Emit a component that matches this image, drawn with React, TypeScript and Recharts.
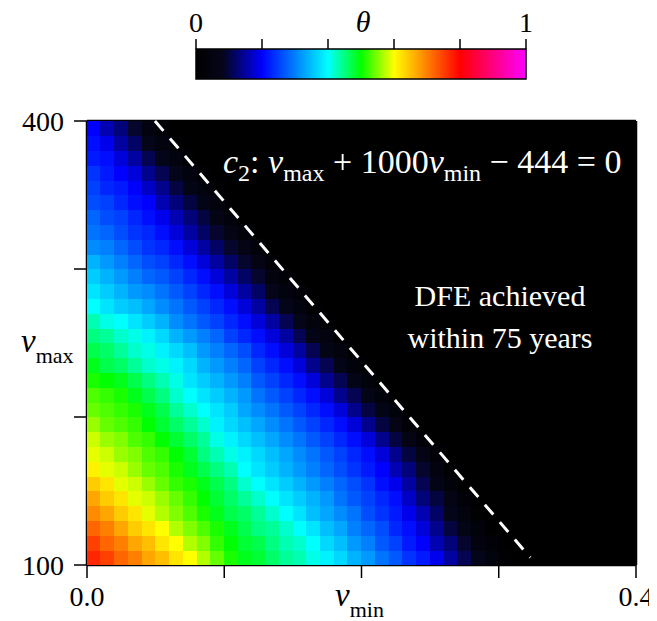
import React from 'react';
import {
  ScatterChart,
  Scatter,
  BarChart,
  Bar,
  XAxis,
  YAxis,
  CartesianGrid,
} from 'recharts';

// cell centres of the theta grid
const VMIN_CENTERS = [
  0.005, 0.015, 0.025, 0.035, 0.045, 0.055, 0.065, 0.075, 0.085, 0.095,
  0.105, 0.115, 0.125, 0.135, 0.145, 0.155, 0.165, 0.175, 0.185, 0.195,
  0.205, 0.215, 0.225, 0.235, 0.245, 0.255, 0.265, 0.275, 0.285, 0.295,
  0.305, 0.315, 0.325, 0.335, 0.345, 0.355, 0.365, 0.375, 0.385, 0.395,
];
const VMAX_CENTERS = [
  105, 115, 125, 135, 145, 155, 165, 175, 185, 195, 205, 215, 225, 235, 245,
  255, 265, 275, 285, 295, 305, 315, 325, 335, 345, 355, 365, 375, 385, 395,
];

// theta in percent, one row per vmax centre (bottom to top); cells past the end of a row are 0 (black)
const THETA_PCT = [
  [77, 75, 72, 70, 67, 65, 62, 60, 57, 54, 51, 49, 48, 46, 44, 43, 41, 39, 37, 34, 32, 29, 27, 24, 22, 19, 15, 11, 8, 4, 1],
  [75, 72, 70, 67, 65, 62, 60, 57, 55, 52, 50, 48, 47, 45, 43, 42, 40, 37, 35, 32, 30, 27, 25, 22, 20, 16, 13, 9, 5, 2],
  [72, 70, 67, 64, 62, 60, 57, 55, 53, 51, 49, 47, 45, 44, 42, 40, 38, 35, 33, 30, 28, 26, 23, 21, 18, 14, 10, 7, 3],
  [69, 67, 64, 62, 59, 57, 55, 53, 51, 49, 47, 46, 44, 42, 40, 38, 35, 33, 31, 29, 26, 24, 22, 19, 16, 12, 8, 4, 1],
  [67, 64, 62, 59, 58, 56, 54, 52, 50, 48, 46, 44, 42, 40, 38, 36, 34, 32, 29, 27, 25, 23, 21, 17, 13, 10, 6, 2],
  [64, 62, 59, 58, 56, 54, 52, 51, 49, 47, 45, 42, 40, 38, 36, 34, 32, 30, 28, 26, 24, 21, 19, 15, 11, 7, 3],
  [61, 59, 58, 56, 54, 53, 51, 49, 47, 45, 43, 40, 38, 36, 34, 32, 30, 28, 26, 24, 22, 20, 16, 13, 9, 5, 1],
  [59, 58, 56, 55, 53, 52, 50, 48, 45, 43, 41, 39, 37, 35, 33, 31, 29, 27, 25, 23, 21, 18, 14, 10, 6, 2],
  [58, 56, 55, 53, 52, 50, 48, 46, 44, 41, 39, 37, 35, 33, 31, 29, 27, 25, 23, 21, 18, 14, 10, 6, 2],
  [56, 54, 53, 52, 50, 48, 46, 44, 42, 39, 37, 35, 33, 31, 29, 27, 25, 23, 21, 18, 14, 10, 6, 2],
  [54, 53, 52, 51, 49, 47, 44, 42, 40, 38, 36, 33, 31, 29, 27, 25, 23, 21, 18, 14, 10, 7, 3],
  [53, 52, 51, 49, 47, 45, 42, 40, 38, 36, 34, 32, 29, 27, 25, 23, 21, 18, 14, 11, 7, 3],
  [51, 50, 49, 47, 45, 43, 41, 38, 36, 34, 32, 30, 27, 25, 23, 21, 18, 14, 11, 7, 3],
  [49, 47, 46, 44, 42, 41, 39, 37, 34, 32, 30, 28, 25, 23, 21, 18, 14, 11, 7, 3],
  [47, 46, 44, 42, 41, 39, 37, 35, 32, 30, 28, 26, 23, 21, 18, 15, 11, 7, 4],
  [45, 44, 42, 41, 39, 37, 34, 32, 30, 28, 25, 23, 21, 18, 15, 11, 7, 4],
  [43, 41, 40, 38, 36, 34, 31, 29, 27, 25, 23, 21, 18, 15, 11, 8, 4, 1],
  [40, 38, 36, 35, 33, 31, 29, 27, 25, 23, 21, 18, 15, 11, 8, 5, 1],
  [38, 36, 34, 32, 31, 29, 27, 25, 23, 21, 18, 15, 12, 8, 5, 2],
  [36, 34, 32, 30, 28, 27, 25, 23, 21, 18, 15, 12, 9, 5, 2],
  [34, 32, 30, 28, 26, 25, 23, 21, 18, 15, 12, 9, 6, 2],
  [31, 30, 28, 26, 24, 23, 21, 18, 15, 12, 9, 6, 3],
  [29, 28, 26, 24, 23, 21, 18, 15, 12, 9, 6, 3],
  [28, 26, 25, 23, 21, 19, 16, 13, 10, 6, 3],
  [26, 25, 23, 21, 20, 16, 13, 10, 7, 4],
  [25, 23, 22, 20, 17, 14, 10, 7, 4, 1],
  [24, 22, 20, 18, 14, 11, 8, 4, 1],
  [22, 21, 18, 15, 11, 8, 5, 1],
  [21, 19, 15, 12, 8, 5, 1],
  [20, 16, 13, 9, 5, 2],
];

const X_TICKS = [0, 0.1, 0.2, 0.3, 0.4];
const Y_TICKS = [100, 200, 300, 400];
const CBAR_TICKS = [0, 0.2, 0.4, 0.6, 0.8, 1];

// colour map of the theta bar
const CMAP_POS = [0, 0.08, 0.2, 0.4, 0.5, 0.6, 0.8, 1];
const CMAP_COLORS = ['#000000', '#05051a', '#0000ff', '#00ffff', '#00ff00', '#ffff00', '#ff0000', '#ff00ff'];

// dashed c2 line, end points
const C2_LINE = [
  { vmin: 0.0495, vmax: 400 },
  { vmin: 0.323, vmax: 105 },
];

const SERIF = '"Liberation Serif", "DejaVu Serif", serif';
const PLOT_W = 549;
const PLOT_H = 444;

function rgb(hex: string) {
  return [1, 3, 5].map((i) => parseInt(hex.slice(i, i + 2), 16));
}

function thetaColor(t: number) {
  for (let i = 1; i < CMAP_POS.length; i++) {
    if (t <= CMAP_POS[i]) {
      const f = (t - CMAP_POS[i - 1]) / (CMAP_POS[i] - CMAP_POS[i - 1]);
      const a = rgb(CMAP_COLORS[i - 1]);
      const b = rgb(CMAP_COLORS[i]);
      const c = a.map((v, k) => Math.round(v + (b[k] - v) * f));
      return `rgb(${c[0]},${c[1]},${c[2]})`;
    }
  }
  return CMAP_COLORS[CMAP_COLORS.length - 1];
}

const cells = THETA_PCT.flatMap((row, r) =>
  row.map((pct, c) => ({ vmin: VMIN_CENTERS[c], vmax: VMAX_CENTERS[r], theta: pct / 100 }))
);

const cellW = PLOT_W / VMIN_CENTERS.length;
const cellH = PLOT_H / VMAX_CENTERS.length;

const HeatCell = (props: any) => {
  const { cx, cy, payload } = props;
  if (cx == null || cy == null) return <g />;
  return (
    <rect
      x={cx - cellW / 2 - 0.3}
      y={cy - cellH / 2 - 0.3}
      width={cellW + 0.6}
      height={cellH + 0.6}
      fill={thetaColor(payload.theta)}
      shapeRendering="crispEdges"
    />
  );
};

const NoDot = () => <g />;

const tickStyle = { fill: '#000', fontSize: 28, fontFamily: SERIF };
const axisLine = { stroke: '#000', strokeWidth: 2.5 };
const tickLine = { stroke: '#000', strokeWidth: 1.5 };

const xLabel = (v: number) => (v === 0 ? '0.0' : v === 0.4 ? '0.4' : '');
const yLabel = (v: number) => (v === 100 || v === 400 ? String(v) : '');
const cbarLabel = (v: number) => (v === 0 || v === 1 ? String(v) : '');

const colorbarData = [{ name: 'theta', value: 1 }];

export default function App() {
  return (
    <div style={{ position: 'relative', width: 649, height: 613, fontFamily: SERIF }}>
      {/* colour bar */}
      <div style={{ position: 'absolute', left: 0, top: 0 }}>
        <BarChart
          width={641}
          height={100}
          data={colorbarData}
          layout="vertical"
          barCategoryGap={0}
          margin={{ top: 11, right: 123, bottom: 17, left: 188 }}
        >
          <defs>
            <linearGradient id="thetaGrad" x1="0" y1="0" x2="1" y2="0">
              {CMAP_POS.map((p, i) => (
                <stop key={i} offset={`${p * 100}%`} stopColor={CMAP_COLORS[i]} />
              ))}
            </linearGradient>
          </defs>
          <XAxis
            xAxisId="top"
            orientation="top"
            type="number"
            domain={[0, 1]}
            ticks={CBAR_TICKS}
            tickFormatter={cbarLabel}
            height={30}
            tickSize={10}
            tickMargin={7}
            axisLine={false}
            tickLine={tickLine}
            tick={tickStyle}
            interval={0}
          />
          <XAxis
            xAxisId="bottom"
            orientation="bottom"
            type="number"
            domain={[0, 1]}
            ticks={CBAR_TICKS}
            tickFormatter={() => ''}
            height={12}
            tickSize={8}
            axisLine={false}
            tickLine={tickLine}
            interval={0}
          />
          <YAxis type="category" dataKey="name" hide />
          <Bar
            xAxisId="top"
            dataKey="value"
            fill="url(#thetaGrad)"
            stroke="#000"
            strokeWidth={1.5}
            isAnimationActive={false}
          />
        </BarChart>
      </div>

      {/* theta heat map */}
      <div style={{ position: 'absolute', left: 0, top: 0 }}>
        <ScatterChart width={649} height={605} margin={{ top: 103, right: 11, bottom: 3, left: 9 }}>
          <CartesianGrid xAxisId="bottom" yAxisId="left" horizontal={false} vertical={false} fill="#000" fillOpacity={1} />
          <XAxis
            xAxisId="bottom"
            dataKey="vmin"
            type="number"
            domain={[0, 0.4]}
            ticks={X_TICKS}
            tickFormatter={xLabel}
            height={45}
            tickSize={13}
            tickMargin={8}
            axisLine={axisLine}
            tickLine={tickLine}
            tick={tickStyle}
            interval={0}
          />
          <XAxis
            xAxisId="top"
            orientation="top"
            type="number"
            domain={[0, 0.4]}
            ticks={X_TICKS}
            tickFormatter={() => ''}
            height={10}
            tickSize={13}
            axisLine={axisLine}
            tickLine={tickLine}
            interval={0}
          />
          <YAxis
            yAxisId="left"
            dataKey="vmax"
            type="number"
            domain={[100, 400]}
            ticks={Y_TICKS}
            tickFormatter={yLabel}
            width={70}
            tickSize={13}
            tickMargin={10}
            axisLine={axisLine}
            tickLine={tickLine}
            tick={tickStyle}
            interval={0}
          />
          <YAxis
            yAxisId="right"
            orientation="right"
            type="number"
            domain={[100, 400]}
            ticks={Y_TICKS}
            tickFormatter={() => ''}
            width={10}
            tickSize={13}
            axisLine={axisLine}
            tickLine={tickLine}
            interval={0}
          />
          <Scatter
            xAxisId="bottom"
            yAxisId="left"
            data={cells}
            shape={HeatCell}
            isAnimationActive={false}
          />
          <Scatter
            xAxisId="bottom"
            yAxisId="left"
            data={C2_LINE}
            line={{ stroke: '#fff', strokeWidth: 3, strokeDasharray: '13 10' }}
            lineType="joint"
            shape={NoDot}
            isAnimationActive={false}
          />
        </ScatterChart>
      </div>

      {/* titles and annotations */}
      <svg
        width={649}
        height={613}
        style={{ position: 'absolute', left: 0, top: 0, pointerEvents: 'none', overflow: 'visible' }}
        fontFamily={SERIF}
      >
        <text x={355} y={24} fontSize={30} fontStyle="italic" textAnchor="middle" fill="#000">
          θ
        </text>
        <text x={13} y={344} fontSize={33} fill="#000">
          <tspan fontStyle="italic">v</tspan>
          <tspan fontSize={22} dy={11}>max</tspan>
        </text>
        <text x={327} y={598} fontSize={33} fill="#000">
          <tspan fontStyle="italic">v</tspan>
          <tspan fontSize={22} dy={11}>min</tspan>
        </text>
        <text x={215} y={165} fontSize={34} fill="#fff" style={{ whiteSpace: 'pre' }}>
          <tspan fontStyle="italic">c</tspan>
          <tspan fontSize={24} dy={8}>2</tspan>
          <tspan dy={-8}>{': '}</tspan>
          <tspan fontStyle="italic">v</tspan>
          <tspan fontSize={24} dy={8}>max</tspan>
          <tspan dy={-8}>{' + 1000'}</tspan>
          <tspan fontStyle="italic">v</tspan>
          <tspan fontSize={24} dy={8}>min</tspan>
          <tspan dy={-8}>{' − 444 = 0'}</tspan>
        </text>
        <text x={492} y={298} fontSize={30} fill="#fff" textAnchor="middle">
          DFE achieved
        </text>
        <text x={492} y={340} fontSize={30} fill="#fff" textAnchor="middle">
          within 75 years
        </text>
      </svg>
    </div>
  );
}
